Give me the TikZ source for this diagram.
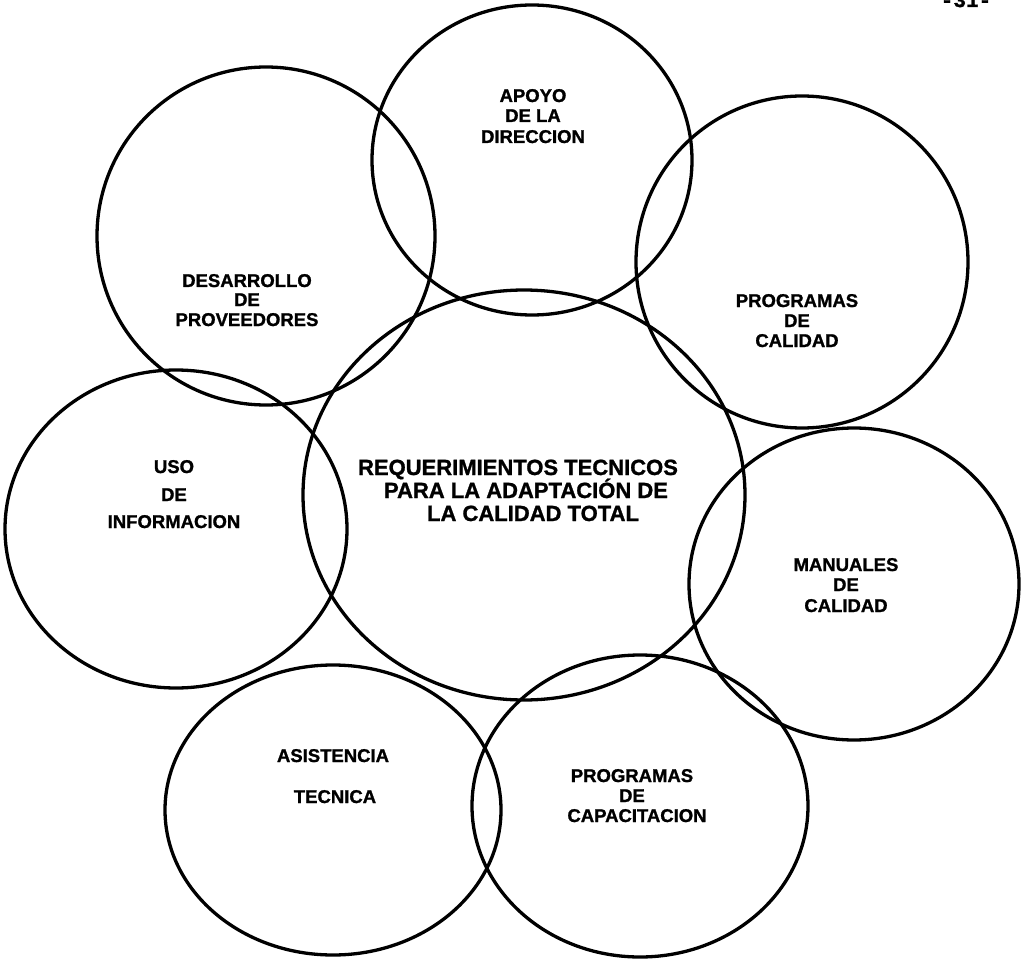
\documentclass[tikz,border=0pt]{standalone}
\usepackage{fontspec}
\setmainfont{Liberation Sans}[BoldFeatures={FakeBold=1.2}]
\newfontfamily\pagenumfont{Liberation Mono}[BoldFeatures={FakeBold=1.5}]
\begin{document}
\begin{tikzpicture}[x=1pt,y=-1pt,
  ring/.style={draw=black,line width=3.3pt},
  lbl/.style={font=\bfseries\fontsize{18.5}{20}\selectfont,anchor=base,inner sep=0pt},
  mainlbl/.style={font=\bfseries\fontsize{22}{24}\selectfont,anchor=base,inner sep=0pt}]
  \useasboundingbox (0,0) rectangle (1023,960);
  \clip (0,0) rectangle (1023,960);

  % page number, cut by the top edge
  \node[font=\pagenumfont\bfseries\fontsize{21}{21}\selectfont,anchor=base,inner sep=0pt] (pagenum) at (966,7) {-31-};

  % the eight circles
  \draw[ring] (524,495) ellipse [x radius=221,y radius=205];
  \draw[ring] (532,160) ellipse [x radius=160,y radius=155];
  \draw[ring] (266,236) ellipse [x radius=169,y radius=169];
  \draw[ring] (802,262) ellipse [x radius=166,y radius=166];
  \draw[ring] (176,529) ellipse [x radius=171,y radius=159];
  \draw[ring] (854,584) ellipse [x radius=165,y radius=156];
  \draw[ring] (333,810) ellipse [x radius=168,y radius=145];
  \draw[ring] (640,806) ellipse [x radius=168,y radius=151];

  % central label
  \node[mainlbl] (main1) at (518,475) {REQUERIMIENTOS TECNICOS};
  \node[mainlbl] (main2) at (526,498) {PARA LA ADAPTACIÓN DE};
  \node[mainlbl] (main3) at (533,521) {LA CALIDAD TOTAL};

  % surrounding labels
  \node[lbl] (apoyo1) at (533,102) {APOYO};
  \node[lbl] (apoyo2) at (533,122) {DE LA};
  \node[lbl] (apoyo3) at (533,143) {DIRECCION};

  \node[lbl] (prov1) at (247,287) {DESARROLLO};
  \node[lbl] (prov2) at (247,306) {DE};
  \node[lbl] (prov3) at (247,326) {PROVEEDORES};

  \node[lbl] (pcal1) at (797,307) {PROGRAMAS};
  \node[lbl] (pcal2) at (797,327) {DE};
  \node[lbl] (pcal3) at (797,347) {CALIDAD};

  \node[lbl] (uso1) at (174,473) {USO};
  \node[lbl] (uso2) at (174,501) {DE};
  \node[lbl] (uso3) at (174,528) {INFORMACION};

  \node[lbl] (man1) at (846,571) {MANUALES};
  \node[lbl] (man2) at (846,591) {DE};
  \node[lbl] (man3) at (846,612) {CALIDAD};

  \node[lbl] (asis1) at (333,762) {ASISTENCIA};
  \node[lbl] (asis2) at (335,803) {TECNICA};

  \node[lbl] (pcap1) at (632,782) {PROGRAMAS};
  \node[lbl] (pcap2) at (632,802) {DE};
  \node[lbl] (pcap3) at (637,822) {CAPACITACION};
\end{tikzpicture}
\end{document}
